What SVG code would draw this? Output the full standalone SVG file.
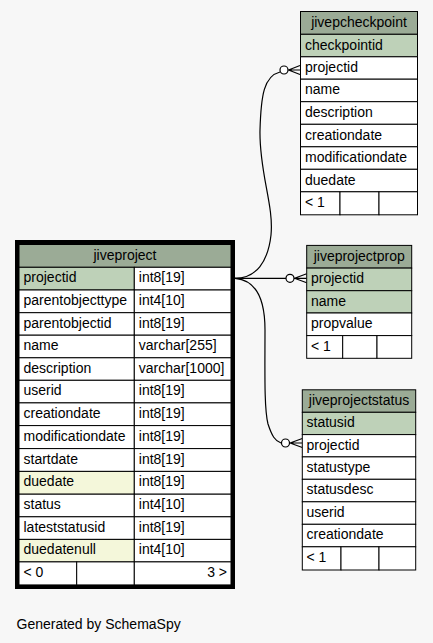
<svg xmlns="http://www.w3.org/2000/svg" width="433" height="643" viewBox="0 0 433 643">
<style>
.c{stroke:#000;stroke-width:1;fill:#fff}
.h{fill:#9bab96}
.pk{fill:#bed1b8}
.ix{fill:#f4f7da}
text{font-family:"Liberation Sans",Arial,sans-serif;font-size:14px;fill:#000}
.m{text-anchor:middle}
.r{text-anchor:end}
.e{fill:none;stroke:#000;stroke-width:1.2}
.o{fill:#fff;stroke:#000;stroke-width:1.2}
</style>
<rect x="0" y="0" width="433" height="643" fill="#f7f7f7"/>

<g id="connectors">
  <path class="e" d="M235,278.3 C256,278.3 268,262 271,235 C274,205 259,172 260,130 C261,95 264,76 280,72"/>
  <path class="e" d="M235,278.3 L286,278.3"/>
  <path class="e" d="M235,278.3 C257,280 265,300 265,330 C265,370 264,408 268,424 C272,436 275,441 281,443"/>
  <circle class="o" cx="284" cy="70" r="4"/>
  <path class="e" d="M288,70 L300,70 M288.5,70 L300,65.5 M288.5,70 L300,74.5"/>
  <circle class="o" cx="290" cy="278.3" r="4"/>
  <path class="e" d="M294,278.3 L306.7,278.3 M294.5,278.3 L306.7,273.8 M294.5,278.3 L306.7,282.8"/>
  <circle class="o" cx="285.5" cy="443" r="4"/>
  <path class="e" d="M289.5,443 L302.3,443 M290,443 L302.3,438.5 M290,443 L302.3,447.5"/>
</g>

<g id="jivepcheckpoint">
  <rect class="c h" x="300.5" y="11.5" width="117" height="22.8"/>
  <text class="m" x="359" y="27">jivepcheckpoint</text>
  <rect class="c pk" x="300.5" y="34.3" width="117" height="22.5"/>
  <text x="305" y="49.5">checkpointid</text>
  <rect class="c" x="300.5" y="56.8" width="117" height="22.4"/>
  <text x="305" y="72">projectid</text>
  <rect class="c" x="300.5" y="79.2" width="117" height="22.5"/>
  <text x="305" y="94.4">name</text>
  <rect class="c" x="300.5" y="101.7" width="117" height="22.6"/>
  <text x="305" y="117">description</text>
  <rect class="c" x="300.5" y="124.3" width="117" height="22.5"/>
  <text x="305" y="139.5">creationdate</text>
  <rect class="c" x="300.5" y="146.8" width="117" height="22.5"/>
  <text x="305" y="162">modificationdate</text>
  <rect class="c" x="300.5" y="169.3" width="117" height="22.5"/>
  <text x="305" y="184.5">duedate</text>
  <rect class="c" x="300.5" y="191.8" width="39.5" height="23"/>
  <rect class="c" x="340" y="191.8" width="39" height="23"/>
  <rect class="c" x="379" y="191.8" width="38.5" height="23"/>
  <text x="305" y="207">&lt; 1</text>
</g>

<g id="jiveproject">
  <rect x="17" y="242" width="216" height="345" fill="none" stroke="#000" stroke-width="4"/>
  <rect class="c h" x="19" y="244.5" width="212" height="22.8"/>
  <text class="m" x="125" y="260">jiveproject</text>
  <rect class="c pk" x="19" y="267.3" width="115.3" height="22.7"/>
  <rect class="c" x="134.3" y="267.3" width="96.7" height="22.7"/>
  <text x="23.5" y="282.3">projectid</text><text x="138.8" y="282.3">int8[19]</text>
  <rect class="c" x="19" y="290" width="115.3" height="22.7"/>
  <rect class="c" x="134.3" y="290" width="96.7" height="22.7"/>
  <text x="23.5" y="305">parentobjecttype</text><text x="138.8" y="305">int4[10]</text>
  <rect class="c" x="19" y="312.7" width="115.3" height="22.5"/>
  <rect class="c" x="134.3" y="312.7" width="96.7" height="22.5"/>
  <text x="23.5" y="327.7">parentobjectid</text><text x="138.8" y="327.7">int8[19]</text>
  <rect class="c" x="19" y="335.2" width="115.3" height="22.6"/>
  <rect class="c" x="134.3" y="335.2" width="96.7" height="22.6"/>
  <text x="23.5" y="350.2">name</text><text x="138.8" y="350.2">varchar[255]</text>
  <rect class="c" x="19" y="357.8" width="115.3" height="22.5"/>
  <rect class="c" x="134.3" y="357.8" width="96.7" height="22.5"/>
  <text x="23.5" y="372.8">description</text><text x="138.8" y="372.8">varchar[1000]</text>
  <rect class="c" x="19" y="380.3" width="115.3" height="22.6"/>
  <rect class="c" x="134.3" y="380.3" width="96.7" height="22.6"/>
  <text x="23.5" y="395.3">userid</text><text x="138.8" y="395.3">int8[19]</text>
  <rect class="c" x="19" y="402.9" width="115.3" height="22.7"/>
  <rect class="c" x="134.3" y="402.9" width="96.7" height="22.7"/>
  <text x="23.5" y="417.9">creationdate</text><text x="138.8" y="417.9">int8[19]</text>
  <rect class="c" x="19" y="425.6" width="115.3" height="23"/>
  <rect class="c" x="134.3" y="425.6" width="96.7" height="23"/>
  <text x="23.5" y="440.6">modificationdate</text><text x="138.8" y="440.6">int8[19]</text>
  <rect class="c" x="19" y="448.6" width="115.3" height="22.8"/>
  <rect class="c" x="134.3" y="448.6" width="96.7" height="22.8"/>
  <text x="23.5" y="463.6">startdate</text><text x="138.8" y="463.6">int8[19]</text>
  <rect class="c ix" x="19" y="471.4" width="115.3" height="22.8"/>
  <rect class="c" x="134.3" y="471.4" width="96.7" height="22.8"/>
  <text x="23.5" y="486.4">duedate</text><text x="138.8" y="486.4">int8[19]</text>
  <rect class="c" x="19" y="494.2" width="115.3" height="22.6"/>
  <rect class="c" x="134.3" y="494.2" width="96.7" height="22.6"/>
  <text x="23.5" y="509.2">status</text><text x="138.8" y="509.2">int4[10]</text>
  <rect class="c" x="19" y="516.8" width="115.3" height="22.6"/>
  <rect class="c" x="134.3" y="516.8" width="96.7" height="22.6"/>
  <text x="23.5" y="531.8">lateststatusid</text><text x="138.8" y="531.8">int8[19]</text>
  <rect class="c ix" x="19" y="539.4" width="115.3" height="22.5"/>
  <rect class="c" x="134.3" y="539.4" width="96.7" height="22.5"/>
  <text x="23.5" y="554.4">duedatenull</text><text x="138.8" y="554.4">int4[10]</text>
  <rect class="c" x="19" y="561.9" width="57.7" height="23"/>
  <rect class="c" x="76.7" y="561.9" width="57.6" height="23"/>
  <rect class="c" x="134.3" y="561.9" width="96.7" height="23"/>
  <text x="23.5" y="576.9">&lt; 0</text><text class="r" x="227" y="576.9">3 &gt;</text>
</g>

<g id="jiveprojectprop">
  <rect class="c h" x="306.7" y="245.4" width="105" height="22.7"/>
  <text class="m" x="359.2" y="260.7">jiveprojectprop</text>
  <rect class="c pk" x="306.7" y="268.1" width="105" height="22.6"/>
  <text x="311" y="283.3">projectid</text>
  <rect class="c pk" x="306.7" y="290.7" width="105" height="22.3"/>
  <text x="311" y="305.8">name</text>
  <rect class="c" x="306.7" y="313" width="105" height="22.6"/>
  <text x="311" y="328.2">propvalue</text>
  <rect class="c" x="306.7" y="335.6" width="36" height="22.7"/>
  <rect class="c" x="342.7" y="335.6" width="34.3" height="22.7"/>
  <rect class="c" x="377" y="335.6" width="34.7" height="22.7"/>
  <text x="311" y="350.8">&lt; 1</text>
</g>

<g id="jiveprojectstatus">
  <rect class="c h" x="302.3" y="389.8" width="113.4" height="22.5"/>
  <text class="m" x="359" y="405">jiveprojectstatus</text>
  <rect class="c pk" x="302.3" y="412.3" width="113.4" height="22.3"/>
  <text x="306.5" y="427.3">statusid</text>
  <rect class="c" x="302.3" y="434.6" width="113.4" height="22.3"/>
  <text x="306.5" y="449.6">projectid</text>
  <rect class="c" x="302.3" y="456.9" width="113.4" height="22.4"/>
  <text x="306.5" y="471.9">statustype</text>
  <rect class="c" x="302.3" y="479.3" width="113.4" height="22.5"/>
  <text x="306.5" y="494.3">statusdesc</text>
  <rect class="c" x="302.3" y="501.8" width="113.4" height="22.5"/>
  <text x="306.5" y="516.8">userid</text>
  <rect class="c" x="302.3" y="524.3" width="113.4" height="22.5"/>
  <text x="306.5" y="539.3">creationdate</text>
  <rect class="c" x="302.3" y="546.8" width="38.7" height="23.2"/>
  <rect class="c" x="341" y="546.8" width="38" height="23.2"/>
  <rect class="c" x="379" y="546.8" width="36.7" height="23.2"/>
  <text x="306.5" y="561.8">&lt; 1</text>
</g>

<text x="16.5" y="629">Generated by SchemaSpy</text>
</svg>
